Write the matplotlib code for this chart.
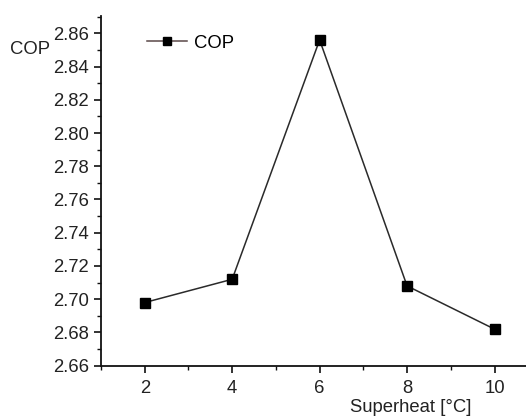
import matplotlib
matplotlib.use("Agg")
import matplotlib.pyplot as plt
from matplotlib.ticker import MultipleLocator

plt.rcParams['font.family'] = ['Liberation Sans', 'DejaVu Sans']

superheat = [2, 4, 6, 8, 10]
cop = [2.698, 2.712, 2.856, 2.708, 2.682]

FS = 13.3
fig = plt.figure(figsize=(5.26, 4.17), dpi=100)
ax = fig.add_axes([101/526, 51.3/417, 1 - 101/526, (365.7-16)/417])
ax.plot(superheat, cop, color='#2a2a2a', lw=1.1, marker='s', markersize=7,
        markerfacecolor='black', markeredgecolor='black', label='COP')
ax.set_xlim(1, 10.72)
ax.set_ylim(2.66, 2.8704)
ax.xaxis.set_major_locator(MultipleLocator(2))
ax.xaxis.set_minor_locator(MultipleLocator(1))
ax.yaxis.set_major_locator(MultipleLocator(0.02))
ax.yaxis.set_minor_locator(MultipleLocator(0.01))
ax.yaxis.set_major_formatter(plt.FuncFormatter(lambda v, p: f"{v:.2f}"))
for s in ['top', 'right']:
    ax.spines[s].set_visible(False)
for s in ['left', 'bottom']:
    ax.spines[s].set_linewidth(1.3)
    ax.spines[s].set_color('#111111')
ax.tick_params(which='major', direction='out', length=5, width=1.2, labelsize=FS,
               colors='#111111', labelcolor='#222222')
ax.tick_params(which='minor', direction='out', length=3, width=1.0, colors='#111111')
ax.tick_params(axis='y', pad=3.5)
ax.tick_params(axis='x', pad=5)

fig.text(10/526, 1 - 50/417, 'COP', fontsize=FS, color='#222222', ha='left', va='center')
fig.text(472/526, 1 - 408/417, 'Superheat [°C]', fontsize=FS, color='#222222', ha='right', va='center')

leg = ax.legend(loc='center left', bbox_to_anchor=(147/526, 1 - 43/417), bbox_transform=fig.transFigure,
                frameon=False, fontsize=FS, handlelength=2.15, handletextpad=0.42,
                borderpad=0, borderaxespad=0, markerscale=0.8)
leg.get_lines()[0].set_color('#5a4848')
leg.get_lines()[0].set_markerfacecolor('black')
leg.get_lines()[0].set_markeredgecolor('black')

fig.savefig('out.png', dpi=100)
